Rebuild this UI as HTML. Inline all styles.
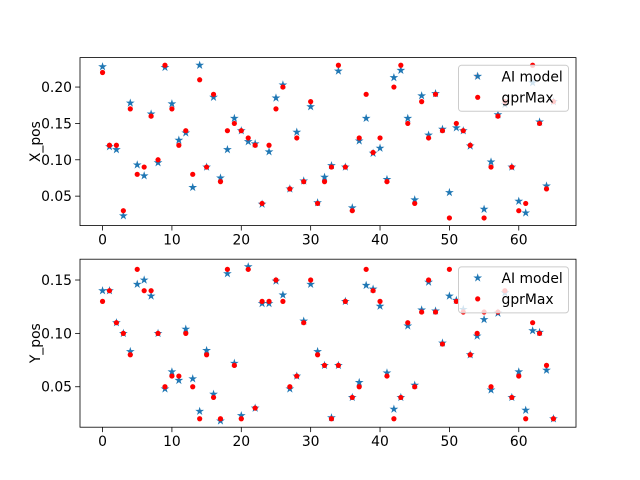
<!DOCTYPE html>
<html><head><meta charset="utf-8"><style>
html,body{margin:0;padding:0;background:#fff}
svg{display:block;font-family:"DejaVu Sans","Liberation Sans",sans-serif}
</style></head><body>
<svg id="fig" width="640" height="480" viewBox="0 0 640 480"></svg>
<script>
const indices = Array.from({length:66},(_,i)=>i);
const xTicks = [0,10,20,30,40,50,60];
const xAI = [0.228,0.118,0.114,0.023,0.178,0.093,0.078,0.163,0.096,0.227,0.177,0.127,0.137,0.062,0.23,0.09,0.186,0.075,0.114,0.157,0.14,0.125,0.122,0.039,0.111,0.185,0.203,0.06,0.138,0.071,0.173,0.041,0.076,0.092,0.222,0.09,0.034,0.126,0.157,0.109,0.116,0.073,0.213,0.223,0.157,0.045,0.188,0.134,0.191,0.142,0.055,0.144,0.14,0.119,0.215,0.032,0.097,0.162,0.176,0.09,0.043,0.027,0.206,0.152,0.064,0.18];
const xGpr = [0.22,0.12,0.12,0.03,0.17,0.08,0.09,0.16,0.10,0.23,0.17,0.12,0.14,0.08,0.21,0.09,0.19,0.07,0.14,0.15,0.14,0.13,0.12,0.04,0.12,0.17,0.20,0.06,0.13,0.07,0.18,0.04,0.07,0.09,0.23,0.09,0.03,0.13,0.19,0.11,0.13,0.07,0.20,0.23,0.15,0.04,0.18,0.13,0.19,0.14,0.02,0.15,0.14,0.12,0.215,0.02,0.09,0.16,0.18,0.09,0.03,0.04,0.23,0.15,0.06,0.18];
const yAI = [0.14,0.14,0.11,0.10,0.083,0.146,0.15,0.135,0.10,0.048,0.064,0.056,0.104,0.0575,0.027,0.084,0.043,0.018,0.156,0.072,0.023,0.1625,0.03,0.128,0.128,0.149,0.136,0.048,0.06,0.1115,0.146,0.083,0.07,0.021,0.07,0.13,0.04,0.054,0.145,0.1415,0.1255,0.063,0.029,0.04,0.107,0.0515,0.122,0.148,0.121,0.091,0.135,0.131,0.1225,0.08,0.0975,0.113,0.047,0.119,0.138,0.04,0.064,0.028,0.1025,0.101,0.0655,0.02];
const yGpr = [0.13,0.14,0.11,0.10,0.08,0.16,0.14,0.14,0.10,0.05,0.06,0.06,0.10,0.05,0.02,0.08,0.04,0.02,0.16,0.07,0.02,0.16,0.03,0.13,0.13,0.15,0.13,0.05,0.06,0.11,0.15,0.08,0.07,0.02,0.07,0.13,0.04,0.05,0.16,0.14,0.13,0.06,0.02,0.04,0.11,0.05,0.12,0.15,0.12,0.09,0.16,0.13,0.12,0.08,0.10,0.12,0.05,0.12,0.14,0.04,0.06,0.02,0.11,0.10,0.07,0.02];
const topYTicks = [0.05,0.10,0.15,0.20];
const botYTicks = [0.05,0.10,0.15];

const NS="http://www.w3.org/2000/svg";
const svg=document.getElementById('fig');
function mk(tag,attrs,parent){const e=document.createElementNS(NS,tag);for(const k in attrs)e.setAttribute(k,attrs[k]);(parent||svg).appendChild(e);return e;}
const L=80,R=576,xmin=-3.25,xmax=68.25;
function xs(v){return L+(v-xmin)/(xmax-xmin)*(R-L);}
function starPath(cx,cy,r){let d='';const ri=r*0.381966;for(let i=0;i<10;i++){const a=-Math.PI/2+i*Math.PI/5;const rr=i%2?ri:r;d+=(i?'L':'M')+(cx+rr*Math.cos(a)).toFixed(2)+' '+(cy+rr*Math.sin(a)).toFixed(2);}return d+'Z';}

function panel(name,top,bottom,ymin,ymax,yticks,ai,gpr,label){
  const g=mk('g',{});
  
  
  const ys=v=>bottom-(v-ymin)/(ymax-ymin)*(bottom-top);
  for(let i=0;i<indices.length;i++){
    const s=mk('path',{d:starPath(xs(indices[i]),ys(ai[i]),4.6),fill:'#1f77b4'},g);
    
    
  }
  for(let i=0;i<indices.length;i++){
    const c=mk('circle',{cx:xs(indices[i]),cy:ys(gpr[i]),r:2.6,fill:'#ff0000'},g);
    
    
  }
  const fr=mk('rect',{x:L,y:top,width:R-L,height:bottom-top,fill:'none',stroke:'#000','stroke-width':0.8},g);
  
  
  for(const t of xTicks){
    const x=xs(t);
    mk('line',{x1:x,y1:bottom,x2:x,y2:bottom+4.9,stroke:'#000','stroke-width':0.8},g);
    const tx=mk('text',{x:x,y:bottom+19,'font-size':'13.9','text-anchor':'middle'},g);
    tx.textContent=t;
    
    
  }
  for(const t of yticks){
    const y=ys(t);
    mk('line',{x1:L-4.9,y1:y,x2:L,y2:y,stroke:'#000','stroke-width':0.8},g);
    const tx=mk('text',{x:L-8,y:y+5,'font-size':'13.9','text-anchor':'end'},g);
    tx.textContent=t.toFixed(2);
    
    
  }
  const yl=mk('text',{x:0,y:0,'font-size':'13.9','text-anchor':'middle',transform:`translate(${L-40},${(top+bottom)/2}) rotate(-90)`},g);
  yl.textContent=label;
  
  
  const lg=mk('g',{},g);
  
  
  const lt=top+7.7;
  mk('rect',{x:458.5,y:lt,width:110,height:46,rx:3,fill:'#fff','fill-opacity':0.8,stroke:'#ccc','stroke-width':1},lg);
  mk('path',{d:starPath(477.7,lt+11,4.6),fill:'#1f77b4'},lg);
  const t1=mk('text',{x:501.5,y:lt+16,'font-size':'13.9'},lg);
  t1.textContent='AI model';
  
  
  mk('circle',{cx:477.7,cy:lt+32,r:2.6,fill:'#ff0000'},lg);
  const t2=mk('text',{x:501.5,y:lt+37,'font-size':'13.9'},lg);
  t2.textContent='gprMax';
  
  
}
panel('top-panel-x-pos',57.6,225.6,0.0095,0.2405,topYTicks,xAI,xGpr,'X_pos');
panel('bottom-panel-y-pos',259.2,427.2,0.0121,0.1695,botYTicks,yAI,yGpr,'Y_pos');
</script>
</body></html>
